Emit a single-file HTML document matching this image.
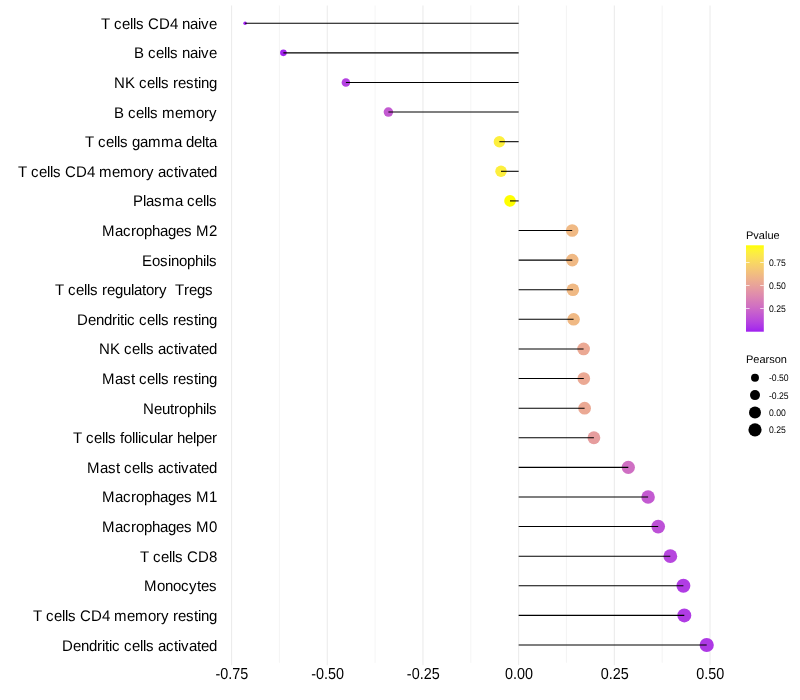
<!DOCTYPE html>
<html><head><meta charset="utf-8"><title>Lollipop</title>
<style>html,body{margin:0;padding:0;background:#fff;}body{width:800px;height:700px;overflow:hidden;}svg{display:block;will-change:transform;}text{font-family:"Liberation Sans",sans-serif;}</style></head><body>
<svg width="800" height="700" viewBox="0 0 800 700">
<rect width="800" height="700" fill="#ffffff"/>
<g>
<line x1="231.59" y1="5.50" x2="231.59" y2="665.18" stroke="#ebebeb" stroke-width="1.067"/>
<line x1="279.43" y1="5.50" x2="279.43" y2="662.78" stroke="#ebebeb" stroke-width="0.533"/>
<line x1="327.27" y1="5.50" x2="327.27" y2="665.18" stroke="#ebebeb" stroke-width="1.067"/>
<line x1="375.12" y1="5.50" x2="375.12" y2="662.78" stroke="#ebebeb" stroke-width="0.533"/>
<line x1="422.96" y1="5.50" x2="422.96" y2="665.18" stroke="#ebebeb" stroke-width="1.067"/>
<line x1="470.81" y1="5.50" x2="470.81" y2="662.78" stroke="#ebebeb" stroke-width="0.533"/>
<line x1="518.65" y1="5.50" x2="518.65" y2="665.18" stroke="#ebebeb" stroke-width="1.067"/>
<line x1="566.49" y1="5.50" x2="566.49" y2="662.78" stroke="#ebebeb" stroke-width="0.533"/>
<line x1="614.34" y1="5.50" x2="614.34" y2="665.18" stroke="#ebebeb" stroke-width="1.067"/>
<line x1="662.18" y1="5.50" x2="662.18" y2="662.78" stroke="#ebebeb" stroke-width="0.533"/>
<line x1="710.02" y1="5.50" x2="710.02" y2="665.18" stroke="#ebebeb" stroke-width="1.067"/>
</g>
<g>
<circle cx="245.10" cy="23.26" r="1.77" fill="#a020f0"/>
<circle cx="283.40" cy="52.87" r="3.31" fill="#a224ee"/>
<circle cx="345.90" cy="82.48" r="4.27" fill="#b441e1"/>
<circle cx="388.40" cy="112.09" r="4.75" fill="#c35ad1"/>
<circle cx="499.40" cy="141.69" r="5.73" fill="#fdef3e"/>
<circle cx="501.00" cy="171.30" r="5.75" fill="#fdef3e"/>
<circle cx="510.00" cy="200.91" r="5.82" fill="#ffff00"/>
<circle cx="572.20" cy="230.51" r="6.27" fill="#f0b984"/>
<circle cx="572.30" cy="260.12" r="6.27" fill="#f0b984"/>
<circle cx="572.90" cy="289.73" r="6.27" fill="#f0b984"/>
<circle cx="573.60" cy="319.33" r="6.28" fill="#f0b984"/>
<circle cx="583.60" cy="348.94" r="6.34" fill="#eba994"/>
<circle cx="583.80" cy="378.55" r="6.34" fill="#eba994"/>
<circle cx="584.60" cy="408.16" r="6.35" fill="#eba994"/>
<circle cx="593.90" cy="437.76" r="6.41" fill="#e69d9e"/>
<circle cx="628.30" cy="467.37" r="6.64" fill="#cf6fc3"/>
<circle cx="648.10" cy="496.98" r="6.76" fill="#c35ad1"/>
<circle cx="658.20" cy="526.58" r="6.82" fill="#bd51d7"/>
<circle cx="670.30" cy="556.19" r="6.90" fill="#b747de"/>
<circle cx="683.40" cy="585.80" r="6.97" fill="#b03ce4"/>
<circle cx="684.30" cy="615.40" r="6.98" fill="#b03ce4"/>
<circle cx="706.70" cy="645.01" r="7.11" fill="#ae39e5"/>
</g><g stroke="#000" stroke-width="1.067" stroke-linecap="butt">
<line x1="518.65" y1="23.26" x2="245.10" y2="23.26"/>
<line x1="518.65" y1="52.87" x2="283.40" y2="52.87"/>
<line x1="518.65" y1="82.48" x2="345.90" y2="82.48"/>
<line x1="518.65" y1="112.09" x2="388.40" y2="112.09"/>
<line x1="518.65" y1="141.69" x2="499.40" y2="141.69"/>
<line x1="518.65" y1="171.30" x2="501.00" y2="171.30"/>
<line x1="518.65" y1="200.91" x2="510.00" y2="200.91"/>
<line x1="518.65" y1="230.51" x2="572.20" y2="230.51"/>
<line x1="518.65" y1="260.12" x2="572.30" y2="260.12"/>
<line x1="518.65" y1="289.73" x2="572.90" y2="289.73"/>
<line x1="518.65" y1="319.33" x2="573.60" y2="319.33"/>
<line x1="518.65" y1="348.94" x2="583.60" y2="348.94"/>
<line x1="518.65" y1="378.55" x2="583.80" y2="378.55"/>
<line x1="518.65" y1="408.16" x2="584.60" y2="408.16"/>
<line x1="518.65" y1="437.76" x2="593.90" y2="437.76"/>
<line x1="518.65" y1="467.37" x2="628.30" y2="467.37"/>
<line x1="518.65" y1="496.98" x2="648.10" y2="496.98"/>
<line x1="518.65" y1="526.58" x2="658.20" y2="526.58"/>
<line x1="518.65" y1="556.19" x2="670.30" y2="556.19"/>
<line x1="518.65" y1="585.80" x2="683.40" y2="585.80"/>
<line x1="518.65" y1="615.40" x2="684.30" y2="615.40"/>
<line x1="518.65" y1="645.01" x2="706.70" y2="645.01"/>
</g>
<g font-size="15px" fill="#000" text-rendering="geometricPrecision">
<text transform="translate(0,29) scale(1,1.024)" x="101 110 114 122 130 133 136 144 148 159 170 178 182 190 198 201 209" y="0" xml:space="preserve">T cells CD4 naive</text>
<text transform="translate(0,58) scale(1,1.024)" x="134 144 148 156 164 167 170 178 182 190 198 201 209" y="0" xml:space="preserve">B cells naive</text>
<text transform="translate(0,88) scale(1,1.024)" x="114 125 135 139 147 155 158 161 169 173 178 186 194 198 201 209" y="0" xml:space="preserve">NK cells resting</text>
<text transform="translate(0,118) scale(1,1.024)" x="114 124 128 136 144 147 150 158 162 175 183 196 204 209" y="0" xml:space="preserve">B cells memory</text>
<text transform="translate(0,147) scale(1,1.024)" x="85 94 98 106 114 117 120 128 132 140 148 161 174 182 186 194 202 205 209" y="0" xml:space="preserve">T cells gamma delta</text>
<text transform="translate(0,177) scale(1,1.024)" x="18 27 31 39 47 50 53 61 65 76 87 95 99 112 120 133 141 146 154 158 166 174 178 181 189 197 201 209" y="0" xml:space="preserve">T cells CD4 memory activated</text>
<text transform="translate(0,206) scale(1,1.024)" x="133 143 146 154 162 175 183 187 195 203 206 209" y="0" xml:space="preserve">Plasma cells</text>
<text transform="translate(0,236) scale(1,1.024)" x="102 115 123 131 136 144 152 160 168 176 184 192 196 209" y="0" xml:space="preserve">Macrophages M2</text>
<text transform="translate(0,266) scale(1,1.024)" x="142 152 160 168 171 179 187 195 203 206 209" y="0" xml:space="preserve">Eosinophils</text>
<text transform="translate(0,295) scale(1,1.024)" x="55 64 68 76 84 87 90 98 102 107 115 123 131 134 142 146 154 159 167 171 175 184 189 197 205 213" y="0" xml:space="preserve">T cells regulatory  Tregs </text>
<text transform="translate(0,325) scale(1,1.024)" x="77 88 96 104 112 117 120 124 127 135 139 147 155 158 161 169 173 178 186 194 198 201 209" y="0" xml:space="preserve">Dendritic cells resting</text>
<text transform="translate(0,354) scale(1,1.024)" x="99 110 120 124 132 140 143 146 154 158 166 174 178 181 189 197 201 209" y="0" xml:space="preserve">NK cells activated</text>
<text transform="translate(0,384) scale(1,1.024)" x="102 115 123 131 135 139 147 155 158 161 169 173 178 186 194 198 201 209" y="0" xml:space="preserve">Mast cells resting</text>
<text transform="translate(0,414) scale(1,1.024)" x="143 154 162 170 174 179 187 195 203 206 209" y="0" xml:space="preserve">Neutrophils</text>
<text transform="translate(0,443) scale(1,1.024)" x="73 82 86 94 102 105 108 116 120 124 132 135 138 141 149 157 160 168 173 177 185 193 196 204 212" y="0" xml:space="preserve">T cells follicular helper</text>
<text transform="translate(0,473) scale(1,1.024)" x="87 100 108 116 120 124 132 140 143 146 154 158 166 174 178 181 189 197 201 209" y="0" xml:space="preserve">Mast cells activated</text>
<text transform="translate(0,502) scale(1,1.024)" x="102 115 123 131 136 144 152 160 168 176 184 192 196 209" y="0" xml:space="preserve">Macrophages M1</text>
<text transform="translate(0,532) scale(1,1.024)" x="102 115 123 131 136 144 152 160 168 176 184 192 196 209" y="0" xml:space="preserve">Macrophages M0</text>
<text transform="translate(0,562) scale(1,1.024)" x="140 149 153 161 169 172 175 183 187 198 209" y="0" xml:space="preserve">T cells CD8</text>
<text transform="translate(0,591) scale(1,1.024)" x="144 157 165 173 181 189 197 201 209" y="0" xml:space="preserve">Monocytes</text>
<text transform="translate(0,621) scale(1,1.024)" x="33 42 46 54 62 65 68 76 80 91 102 110 114 127 135 148 156 161 169 173 178 186 194 198 201 209" y="0" xml:space="preserve">T cells CD4 memory resting</text>
<text transform="translate(0,651) scale(1,1.024)" x="62 73 81 89 97 102 105 109 112 120 124 132 140 143 146 154 158 166 174 178 181 189 197 201 209" y="0" xml:space="preserve">Dendritic cells activated</text>
</g>
<g font-size="15px" fill="#000" text-anchor="middle" text-rendering="geometricPrecision">
<text transform="translate(231.89,678.6) scale(0.96,1.06)">-0.75</text>
<text transform="translate(327.57,678.6) scale(0.96,1.06)">-0.50</text>
<text transform="translate(423.26,678.6) scale(0.96,1.06)">-0.25</text>
<text transform="translate(518.95,678.6) scale(0.96,1.06)">0.00</text>
<text transform="translate(614.64,678.6) scale(0.96,1.06)">0.25</text>
<text transform="translate(710.32,678.6) scale(0.96,1.06)">0.50</text>
</g>
<defs><linearGradient id="cb" x1="0" y1="1" x2="0" y2="0">
<stop offset="0.00" stop-color="#a020f0"/>
<stop offset="0.05" stop-color="#aa33e8"/>
<stop offset="0.10" stop-color="#b441e1"/>
<stop offset="0.15" stop-color="#bc4ed9"/>
<stop offset="0.20" stop-color="#c35ad1"/>
<stop offset="0.25" stop-color="#ca66c9"/>
<stop offset="0.30" stop-color="#d171c1"/>
<stop offset="0.35" stop-color="#d67bb9"/>
<stop offset="0.40" stop-color="#dc86b1"/>
<stop offset="0.45" stop-color="#e190a9"/>
<stop offset="0.50" stop-color="#e59ba0"/>
<stop offset="0.55" stop-color="#e9a597"/>
<stop offset="0.60" stop-color="#edaf8e"/>
<stop offset="0.65" stop-color="#f0b984"/>
<stop offset="0.70" stop-color="#f3c37a"/>
<stop offset="0.75" stop-color="#f6cd6f"/>
<stop offset="0.80" stop-color="#f8d763"/>
<stop offset="0.85" stop-color="#fbe156"/>
<stop offset="0.90" stop-color="#fceb46"/>
<stop offset="0.95" stop-color="#fef530"/>
<stop offset="1.00" stop-color="#ffff00"/>
</linearGradient></defs>
<g fill="#000" text-rendering="geometricPrecision">
<text x="746" y="239" font-size="11px">Pvalue</text>
<rect x="746" y="245.3" width="17.8" height="86.4" fill="url(#cb)"/>
<line x1="746" x2="749.6" y1="262.5" y2="262.5" stroke="#fff" stroke-width="0.7"/>
<line x1="760.2" x2="763.8" y1="262.5" y2="262.5" stroke="#fff" stroke-width="0.7"/>
<line x1="746" x2="749.6" y1="285.5" y2="285.5" stroke="#fff" stroke-width="0.7"/>
<line x1="760.2" x2="763.8" y1="285.5" y2="285.5" stroke="#fff" stroke-width="0.7"/>
<line x1="746" x2="749.6" y1="308.5" y2="308.5" stroke="#fff" stroke-width="0.7"/>
<line x1="760.2" x2="763.8" y1="308.5" y2="308.5" stroke="#fff" stroke-width="0.7"/>
<text transform="translate(769,265.9) scale(0.98,1.08)" font-size="8.8px">0.75</text>
<text transform="translate(769,288.9) scale(0.98,1.08)" font-size="8.8px">0.50</text>
<text transform="translate(769,311.9) scale(0.98,1.08)" font-size="8.8px">0.25</text>
<text x="746" y="362.8" font-size="11px">Pearson</text>
<circle cx="755" cy="377.7" r="3.95"/>
<text transform="translate(769,381.1) scale(0.98,1.08)" font-size="8.8px">-0.50</text>
<circle cx="755" cy="395.1" r="5.00"/>
<text transform="translate(769,398.5) scale(0.98,1.08)" font-size="8.8px">-0.25</text>
<circle cx="755" cy="412.5" r="6.00"/>
<text transform="translate(769,415.9) scale(0.98,1.08)" font-size="8.8px">0.00</text>
<circle cx="755" cy="429.8" r="6.60"/>
<text transform="translate(769,433.2) scale(0.98,1.08)" font-size="8.8px">0.25</text>
</g>
</svg></body></html>
